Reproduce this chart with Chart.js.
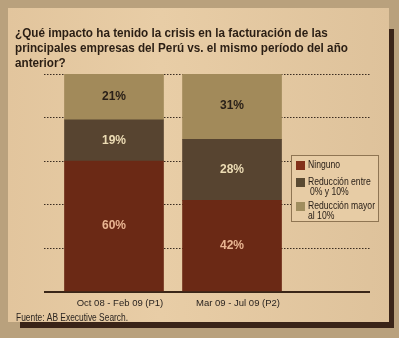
<!DOCTYPE html>
<html><head><meta charset="utf-8">
<script src="https://cdn.jsdelivr.net/npm/chart.js@4/dist/chart.umd.min.js"></script>
<style>html,body{margin:0;padding:0;background:#b9a17d;overflow:hidden}#wrap{width:399px;height:338px;position:relative}</style>
</head><body><div id="wrap"><canvas id="c" width="399" height="338"></canvas></div>
<script>
const titleLines = ['¿Qué impacto ha tenido la crisis en la facturación de las','principales empresas del Perú vs. el mismo período del año','anterior?'];
const periods = ['Oct 08 - Feb 09 (P1)', 'Mar 09 - Jul 09 (P2)'];
const seriesNames = ['Ninguno', 'Reducción entre 0% y 10%', 'Reducción mayor al 10%'];
const legendLines = [['Ninguno'], ['Reducción entre', '0% y 10%'], ['Reducción mayor', 'al 10%']];
const ninguno = [60, 42];
const reduccion0a10 = [19, 28];
const reduccionMayor10 = [21, 31];
const yTicks = [0, 20, 40, 60, 80, 100];
const source = 'Fuente: AB Executive Search.';

const FONT = "'Liberation Sans',Arial,sans-serif";
Chart.defaults.font.family = FONT;

// draw text horizontally condensed (the original uses a narrow typeface)
function narrowText(c, txt, x, y, sx) {
  c.save(); c.translate(x, y); c.scale(sx, 1); c.fillText(txt, 0, 0); c.restore();
}

const bgPlugin = {
  id: 'bg',
  beforeDraw(chart) {
    const c = chart.ctx; c.save();
    c.fillStyle = '#b9a17d'; c.fillRect(0, 0, 399, 338);
    const g = c.createLinearGradient(8, 0, 390, 0);
    g.addColorStop(0, '#e2c59d'); g.addColorStop(0.4, '#e8cda6'); g.addColorStop(1, '#dec29b');
    c.fillStyle = g; c.fillRect(8, 8, 381, 314);
    c.fillStyle = '#3a2418';
    c.fillRect(389, 29, 5, 299);
    c.fillRect(20, 322, 374, 6);
    // title
    c.fillStyle = '#2a1e14'; c.font = 'bold 13px ' + FONT; c.textBaseline = 'middle'; c.textAlign = 'left';
    titleLines.forEach((ln, i) => narrowText(c, ln, 15, 33 + i * 15, 0.9));
    c.restore();
  }
};

const labelPlugin = {
  id: 'vals',
  afterDatasetsDraw(chart) {
    const c = chart.ctx; c.save();
    c.font = 'bold 12px ' + FONT; c.textAlign = 'center'; c.textBaseline = 'middle';
    chart.data.datasets.forEach((ds, di) => {
      chart.getDatasetMeta(di).data.forEach((bar, j) => {
        c.fillStyle = ds.labelColor;
        c.fillText(ds.data[j].y + '%', bar.x, (bar.y + bar.base) / 2);
      });
    });
    c.restore();
  }
};

const legendPlugin = {
  id: 'customLegend',
  afterDraw(chart) {
    const c = chart.ctx; c.save();
    c.fillStyle = '#e7cca5'; c.fillRect(291, 155, 88, 67);
    c.strokeStyle = '#8f7553'; c.lineWidth = 1; c.strokeRect(291.5, 155.5, 87, 66);
    const tops = [161, 178, 202];
    c.font = '10.5px ' + FONT; c.textBaseline = 'middle'; c.textAlign = 'left';
    chart.data.datasets.forEach((ds, i) => {
      c.fillStyle = ds.swatchColor; c.fillRect(296, tops[i], 9, 9);
      c.fillStyle = '#2a2018';
      legendLines[i].forEach((ln, k) => narrowText(c, ln, 308 + (k > 0 && i === 1 ? 2 : 0), tops[i] + 4.5 + k * 9.5, 0.82));
    });
    c.font = '10px ' + FONT; c.fillStyle = '#2a2420';
    narrowText(c, source, 16, 318, 0.84);
    c.restore();
  }
};

const mk = (arr) => periods.map((p, i) => ({ x: i, y: arr[i] }));

new Chart(document.getElementById('c'), {
  type: 'bar',
  data: {
    datasets: [
      { label: seriesNames[0], data: mk(ninguno), backgroundColor: '#6b2915', swatchColor: '#82301a', labelColor: '#e9b592' },
      { label: seriesNames[1], data: mk(reduccion0a10), backgroundColor: '#574430', swatchColor: '#5a4a32', labelColor: '#ecdcb4' },
      { label: seriesNames[2], data: mk(reduccionMayor10), backgroundColor: '#a28a5a', swatchColor: '#a08d5e', labelColor: '#2a2018' }
    ]
  },
  options: {
    responsive: false, animation: false, devicePixelRatio: 1,
    barThickness: 99,
    layout: { padding: { left: 15, right: 29, top: 74, bottom: 0 } },
    plugins: { legend: { display: false }, tooltip: { enabled: false }, title: { display: false } },
    scales: {
      x: {
        type: 'linear', stacked: true, min: -0.593, max: 2.169, offset: false,
        grid: { display: false, drawTicks: false, offset: false }, border: { display: false },
        afterBuildTicks: s => { s.ticks = periods.map((_, i) => ({ value: i })); },
        ticks: { callback: v => periods[v], color: '#2a2420', font: { size: 9.5 }, padding: 6, labelOffset: 6, autoSkip: false, maxRotation: 0 },
        afterFit: s => { s.height = 46; }
      },
      y: {
        stacked: true, min: 0, max: 100,
        afterBuildTicks: s => { s.ticks = yTicks.map(v => ({ value: v })); },
        ticks: { display: false },
        grid: { drawTicks: false, color: c => c.tick && c.tick.value === 0 ? '#3a2618' : '#3b2c20', lineWidth: c => c.tick && c.tick.value === 0 ? 2 : 1 },
        border: { display: false, dash: c => c.tick && c.tick.value === 0 ? [] : [1.5, 1.5] },
        afterFit: s => { s.width = 29; }
      }
    }
  },
  plugins: [bgPlugin, labelPlugin, legendPlugin]
});
</script></body></html>
